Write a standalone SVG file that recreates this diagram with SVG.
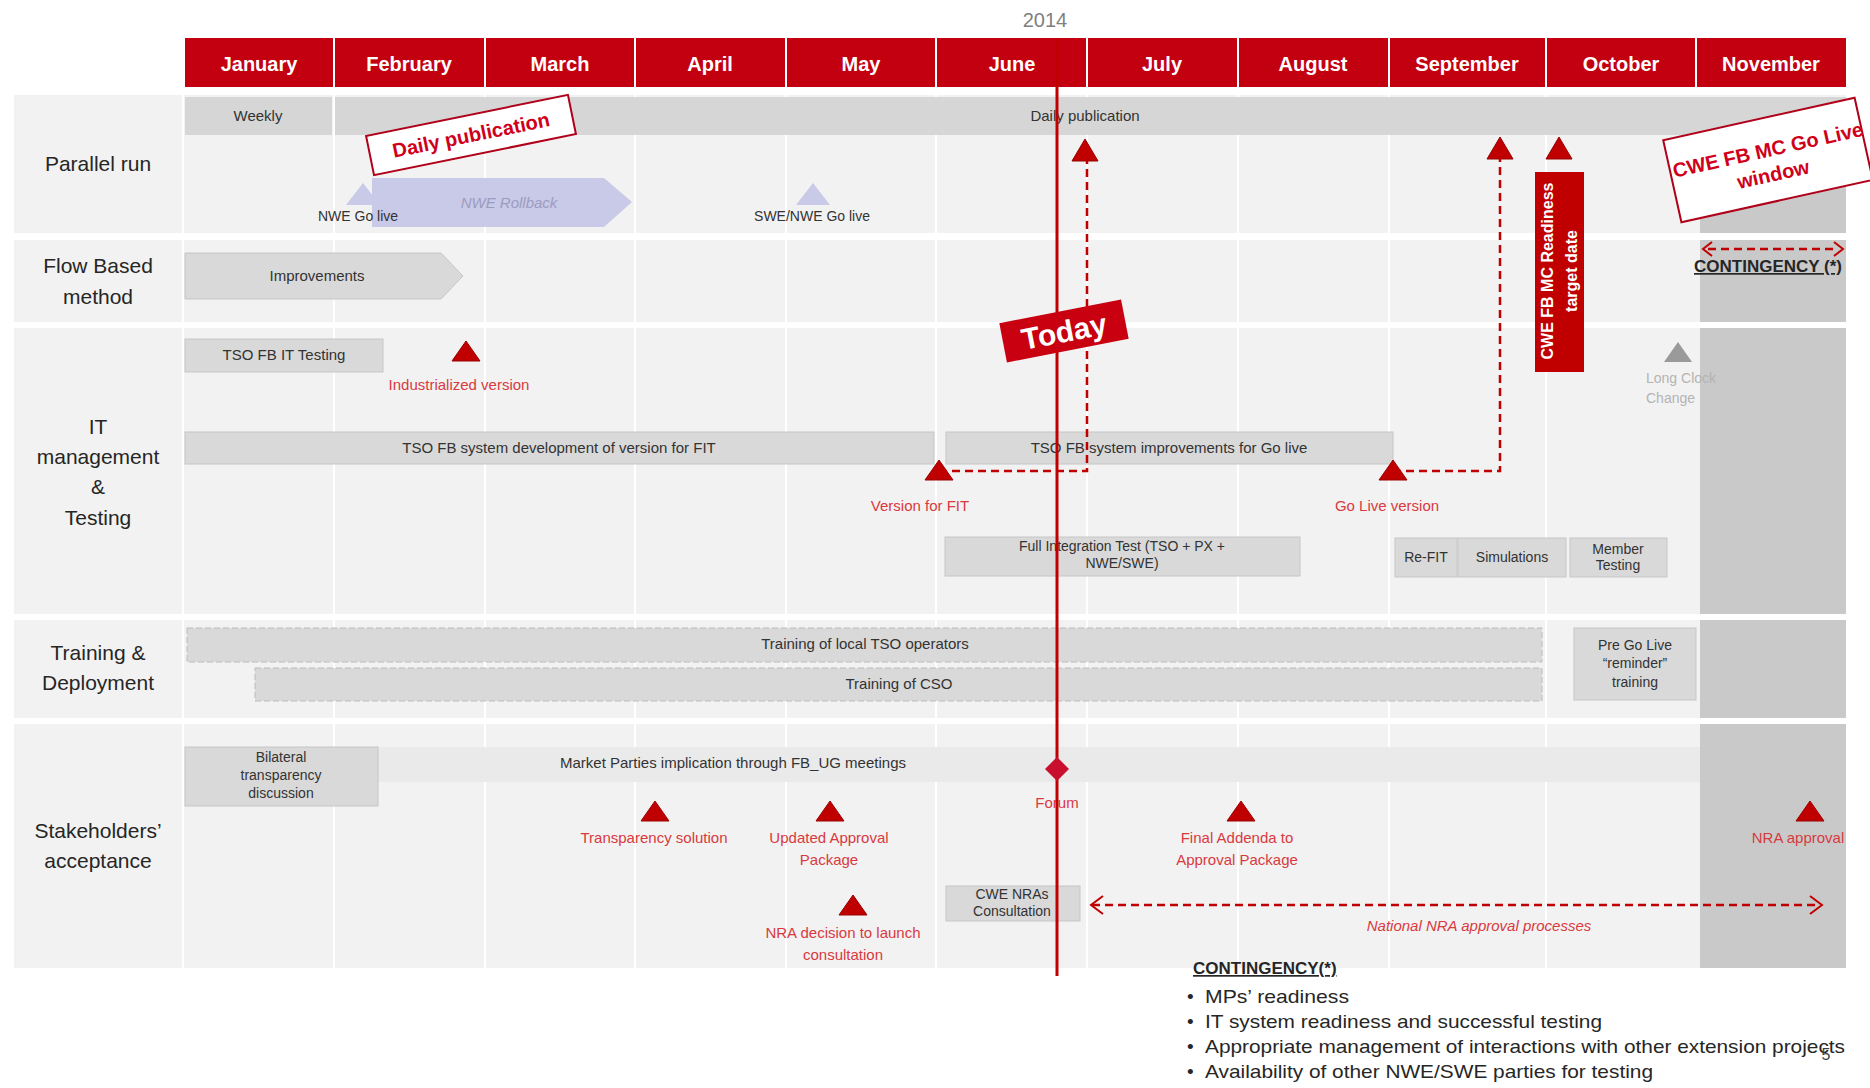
<svg xmlns="http://www.w3.org/2000/svg" width="1870" height="1088" viewBox="0 0 1870 1088">
<style>
text{font-family:"Liberation Sans",Arial,sans-serif}
.mon{fill:#c3000f}
.mt{fill:#fff;font-weight:bold;font-size:20px;text-anchor:middle}
.band{fill:#f2f2f2}
.lab{fill:#262626;font-size:21px;text-anchor:middle}
.bar{fill:#d9d9d9;stroke:#c6c6c6;stroke-width:1}
.bt{fill:#333;font-size:15px;text-anchor:middle}
.st{fill:#333;font-size:14px;text-anchor:middle}
.rt{fill:#d83a3f;font-size:15px;text-anchor:middle}
.tri{fill:#c00000;stroke:#9a0000;stroke-width:1}
.dash{stroke:#c00000;stroke-width:2.5;stroke-dasharray:8 5;fill:none}
.grid{stroke:#fff;stroke-width:2}
.cont{fill:#c9c9c9}
.stamp{fill:#fff;stroke:#b0001a;stroke-width:2}
.stt{fill:#d0001a;font-weight:bold;text-anchor:middle}
.lt{fill:#262626;font-size:19px}
</style>
<defs>
<path id="tri" d="M0,-10 L14,10 L-14,10 Z"/>
<path id="ltri" d="M0,-11 L13,11 L-13,11 Z"/>
</defs>

<g id="year"><text x="1045" y="27" fill="#7f7f7f" font-size="20" text-anchor="middle">2014</text></g>

<g id="months">
<rect class="mon" x="185" y="38" width="148" height="49"/>
<rect class="mon" x="335" y="38" width="149" height="49"/>
<rect class="mon" x="486" y="38" width="148" height="49"/>
<rect class="mon" x="636" y="38" width="149" height="49"/>
<rect class="mon" x="787" y="38" width="148" height="49"/>
<rect class="mon" x="937" y="38" width="149" height="49"/>
<rect class="mon" x="1088" y="38" width="149" height="49"/>
<rect class="mon" x="1239" y="38" width="149" height="49"/>
<rect class="mon" x="1390" y="38" width="155" height="49"/>
<rect class="mon" x="1547" y="38" width="148" height="49"/>
<rect class="mon" x="1697" y="38" width="149" height="49"/>
<text class="mt" x="259" y="71">January</text>
<text class="mt" x="409" y="71">February</text>
<text class="mt" x="560" y="71">March</text>
<text class="mt" x="710" y="71">April</text>
<text class="mt" x="861" y="71">May</text>
<text class="mt" x="1012" y="71">June</text>
<text class="mt" x="1162" y="71">July</text>
<text class="mt" x="1313" y="71">August</text>
<text class="mt" x="1467" y="71">September</text>
<text class="mt" x="1621" y="71">October</text>
<text class="mt" x="1771" y="71">November</text>
</g>

<g id="bands">
<rect class="band" x="14" y="95" width="1832" height="138"/>
<rect class="band" x="14" y="240" width="1832" height="82"/>
<rect class="band" x="14" y="328" width="1832" height="286"/>
<rect class="band" x="14" y="620" width="1832" height="98"/>
<rect class="band" x="14" y="724" width="1832" height="244"/>
<g class="grid">
<line x1="183" y1="95" x2="183" y2="968"/>
<line x1="334" y1="95" x2="334" y2="968"/>
<line x1="485" y1="95" x2="485" y2="968"/>
<line x1="635" y1="95" x2="635" y2="968"/>
<line x1="786" y1="95" x2="786" y2="968"/>
<line x1="936" y1="95" x2="936" y2="968"/>
<line x1="1087" y1="95" x2="1087" y2="968"/>
<line x1="1238" y1="95" x2="1238" y2="968"/>
<line x1="1389" y1="95" x2="1389" y2="968"/>
<line x1="1546" y1="95" x2="1546" y2="968"/>
</g>
<rect class="cont" x="1700" y="135" width="146" height="98"/>
<rect class="cont" x="1700" y="240" width="146" height="82"/>
<rect class="cont" x="1700" y="328" width="146" height="286"/>
<rect class="cont" x="1700" y="620" width="146" height="98"/>
<rect class="cont" x="1700" y="724" width="146" height="244"/>
</g>

<g id="row-labels">
<text class="lab" x="98" y="171">Parallel run</text>
<text class="lab" x="98" y="273">Flow Based</text>
<text class="lab" x="98" y="304">method</text>
<text class="lab" x="98" y="434">IT</text>
<text class="lab" x="98" y="464">management</text>
<text class="lab" x="98" y="494">&amp;</text>
<text class="lab" x="98" y="525">Testing</text>
<text class="lab" x="98" y="660">Training &amp;</text>
<text class="lab" x="98" y="690">Deployment</text>
<text class="lab" x="98" y="838">Stakeholders’</text>
<text class="lab" x="98" y="868">acceptance</text>
</g>

<g id="parallel-run">
<rect x="185" y="97" width="147" height="38" fill="#d6d6d6"/>
<rect x="335" y="97" width="1511" height="38" fill="#d6d6d6"/>
<text class="bt" x="258" y="121">Weekly</text>
<text class="bt" x="1085" y="121">Daily publication</text>
<path d="M363,183 L380,205 L346,205 Z" fill="#c9c9e8"/>
<path d="M813,183 L830,205 L796,205 Z" fill="#c9c9e8"/>
<path d="M372,178 L604,178 L632,202 L604,227 L372,227 Z" fill="#c9c9e8"/>
<text x="509" y="208" fill="#9c9cc0" font-size="15" font-style="italic" text-anchor="middle">NWE Rollback</text>
<text class="st" x="358" y="221">NWE Go live</text>
<text class="st" x="812" y="221">SWE/NWE Go live</text>
</g>

<g id="stamp-daily" transform="translate(471,135) rotate(-11.5)">
<rect class="stamp" x="-103" y="-20" width="206" height="40"/>
<text class="stt" x="0" y="7" font-size="20">Daily publication</text>
</g>

<g id="flow-based">
<path d="M185,253 L441,253 L463,276 L441,299 L185,299 Z" class="bar"/>
<text class="bt" x="317" y="281">Improvements</text>
</g>

<g id="it-management">
<rect class="bar" x="185" y="339" width="198" height="33"/>
<text class="bt" x="284" y="360">TSO FB IT Testing</text>
<rect class="bar" x="185" y="432" width="749" height="32"/>
<text class="bt" x="559" y="453">TSO FB system development of version for FIT</text>
<rect class="bar" x="946" y="432" width="447" height="32"/>
<text class="bt" x="1169" y="453">TSO FB system improvements for Go live</text>
<rect class="bar" x="945" y="537" width="355" height="39"/>
<text class="st" x="1122" y="551">Full Integration Test (TSO + PX +</text>
<text class="st" x="1122" y="568">NWE/SWE)</text>
<rect class="bar" x="1395" y="538" width="62" height="39"/>
<text class="st" x="1426" y="562" font-size="13">Re-FIT</text>
<rect class="bar" x="1458" y="538" width="108" height="39"/>
<text class="st" x="1512" y="562" font-size="13">Simulations</text>
<rect class="bar" x="1570" y="538" width="97" height="39"/>
<text class="st" x="1618" y="554" font-size="13">Member</text>
<text class="st" x="1618" y="570" font-size="13">Testing</text>
<path d="M1678,342 L1692,362 L1664,362 Z" fill="#9a9a9a"/>
<text x="1646" y="383" fill="#b4b4b4" font-size="14">Long Clock</text>
<text x="1646" y="403" fill="#b4b4b4" font-size="14">Change</text>
</g>

<g id="training">
<rect x="187" y="628" width="1355" height="34" fill="#d9d9d9" stroke="#bcbcbc" stroke-dasharray="6 3"/>
<text class="bt" x="865" y="649">Training of local TSO operators</text>
<rect x="255" y="668" width="1287" height="33" fill="#d9d9d9" stroke="#bcbcbc" stroke-dasharray="6 3"/>
<text class="bt" x="899" y="689">Training of CSO</text>
<rect class="bar" x="1574" y="628" width="122" height="72"/>
<text class="st" x="1635" y="650">Pre Go Live</text>
<text class="st" x="1635" y="668">“reminder”</text>
<text class="st" x="1635" y="687">training</text>
</g>

<g id="stakeholders">
<rect x="185" y="747" width="1515" height="35" fill="#eaeaea"/>
<rect class="bar" x="185" y="747" width="193" height="59" fill="#d4d4d4"/>
<text class="st" x="281" y="762">Bilateral</text>
<text class="st" x="281" y="780">transparency</text>
<text class="st" x="281" y="798">discussion</text>
<text class="bt" x="733" y="768">Market Parties implication through FB_UG meetings</text>
<rect class="bar" x="946" y="886" width="134" height="35"/>
<text class="st" x="1012" y="899">CWE NRAs</text>
<text class="st" x="1012" y="916">Consultation</text>
</g>

<g id="milestones">
<use href="#tri" class="tri" x="466" y="351"/>
<use href="#tri" class="tri" x="939" y="470"/>
<use href="#tri" class="tri" x="1393" y="470"/>
<use href="#ltri" class="tri" x="1085" y="150"/>
<use href="#ltri" class="tri" x="1500" y="148"/>
<use href="#ltri" class="tri" x="1559" y="148"/>
<use href="#tri" class="tri" x="655" y="811"/>
<use href="#tri" class="tri" x="830" y="811"/>
<use href="#tri" class="tri" x="853" y="905"/>
<use href="#tri" class="tri" x="1241" y="811"/>
<use href="#tri" class="tri" x="1810" y="811"/>
<text class="rt" x="459" y="390">Industrialized version</text>
<text class="rt" x="920" y="511">Version for FIT</text>
<text class="rt" x="1387" y="511">Go Live version</text>
<text class="rt" x="654" y="843">Transparency solution</text>
<text class="rt" x="829" y="843">Updated Approval</text>
<text class="rt" x="829" y="865">Package</text>
<text class="rt" x="843" y="938">NRA decision to launch</text>
<text class="rt" x="843" y="960">consultation</text>
<text class="rt" x="1237" y="843">Final Addenda to</text>
<text class="rt" x="1237" y="865">Approval Package</text>
<text class="rt" x="1798" y="843">NRA approval</text>
<text class="rt" x="1057" y="808">Forum</text>
</g>

<g id="readiness">
<rect x="1535" y="172" width="49" height="200" fill="#c00000"/>
<text transform="translate(1553,271) rotate(-90)" fill="#fff" font-size="16" font-weight="bold" text-anchor="middle">CWE FB MC Readiness</text>
<text transform="translate(1577,271) rotate(-90)" fill="#fff" font-size="16" font-weight="bold" text-anchor="middle">target date</text>
</g>

<g id="connectors">
<polyline class="dash" points="939,471 1087,471 1087,161"/>
<polyline class="dash" points="1393,471 1500,471 1500,159"/>
<line class="dash" x1="1708" y1="249" x2="1838" y2="249" stroke-width="2"/>
<polyline points="1712,242 1703,249 1712,256" fill="none" stroke="#c00000" stroke-width="2"/>
<polyline points="1834,242 1843,249 1834,256" fill="none" stroke="#c00000" stroke-width="2"/>
<line class="dash" x1="1092" y1="905" x2="1820" y2="905" stroke-width="2"/>
<polyline points="1103,896 1091,905 1103,914" fill="none" stroke="#c00000" stroke-width="2"/>
<polyline points="1810,896 1822,905 1810,914" fill="none" stroke="#c00000" stroke-width="2"/>
<text x="1479" y="931" fill="#d83a3f" font-size="15" font-style="italic" text-anchor="middle">National NRA approval processes</text>
<line x1="1057" y1="38" x2="1057" y2="976" stroke="#c00000" stroke-width="3"/>
<path d="M1057,757 L1069,769 L1057,781 L1045,769 Z" fill="#c8102e"/>
</g>

<g id="contingency-label">
<text x="1768" y="272" fill="#262626" font-size="17" font-weight="bold" text-anchor="middle" text-decoration="underline">CONTINGENCY (*)</text>
</g>

<g id="stamp-today" transform="translate(1064,331) rotate(-11)">
<rect x="-62" y="-20" width="124" height="40" fill="#c8000f"/>
<text x="0" y="11" fill="#fff" font-size="30" font-weight="bold" text-anchor="middle">Today</text>
</g>

<g id="stamp-golive" transform="translate(1768,160) rotate(-12.5)">
<rect class="stamp" x="-98" y="-42" width="196" height="84"/>
<text class="stt" x="2" y="-3" font-size="20">CWE FB MC Go Live</text>
<text class="stt" x="2" y="22" font-size="20">window</text>
</g>

<g id="contingency-list">
<text x="1193" y="974" fill="#262626" font-size="17" font-weight="bold" text-decoration="underline">CONTINGENCY(*)</text>
<text class="lt" x="1187" y="1003">•</text><text class="lt" x="1205" y="1003" textLength="144" lengthAdjust="spacingAndGlyphs">MPs’ readiness</text>
<text class="lt" x="1187" y="1028">•</text><text class="lt" x="1205" y="1028" textLength="397" lengthAdjust="spacingAndGlyphs">IT system readiness and successful testing</text>
<text class="lt" x="1187" y="1053">•</text><text class="lt" x="1205" y="1053" textLength="640" lengthAdjust="spacingAndGlyphs">Appropriate management of interactions with other extension projects</text>
<text class="lt" x="1187" y="1078">•</text><text class="lt" x="1205" y="1078" textLength="448" lengthAdjust="spacingAndGlyphs">Availability of other NWE/SWE parties for testing</text>
<text x="1826" y="1060" fill="#404040" font-size="16" text-anchor="middle">5</text>
</g>
</svg>
